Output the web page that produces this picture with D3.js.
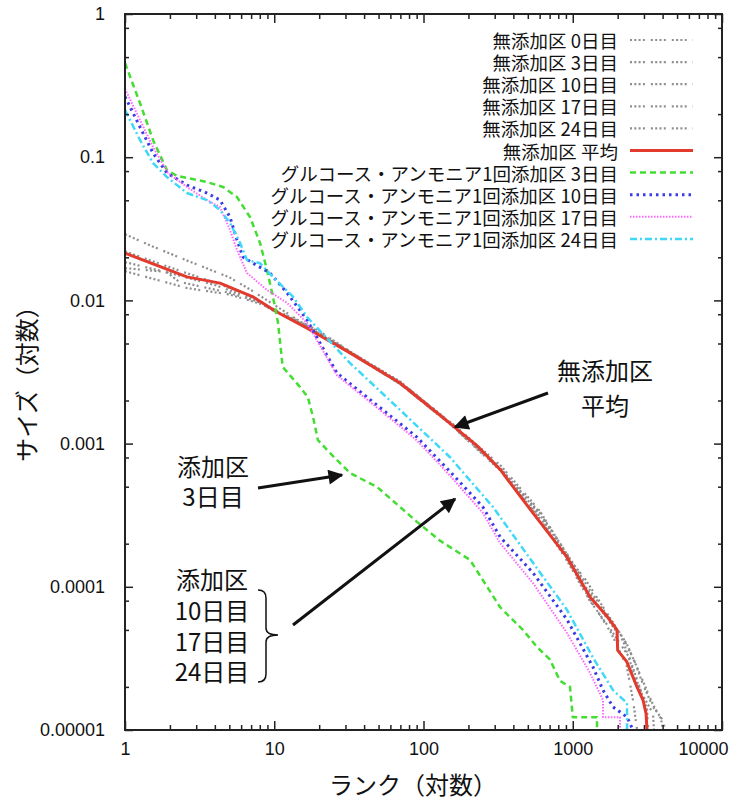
<!DOCTYPE html>
<html>
<head>
<meta charset="utf-8">
<script src="https://cdn.jsdelivr.net/npm/d3@7"></script>
<style>
  body { margin: 0; background: #fff; }
  text { font-family: "Noto Sans CJK JP", sans-serif; fill: #111; }
  .tick text { font-family: "Liberation Sans", Arial, sans-serif; font-size: 18px; fill: #111; }
</style>
</head>
<body>
<svg id="chart" width="734" height="803"></svg>
<script>
// ---- data: [rank, size] ----
const rankTicks = [1, 10, 100, 1000, 10000];
const sizeTicks = [1, 0.1, 0.01, 0.001, 0.0001, 0.00001];
const sizeTickLabels = ["1", "0.1", "0.01", "0.001", "0.0001", "0.00001"];

const plain0 = [[1,0.029],[1.5,0.024],[2.6,0.019],[5,0.0145],[7,0.0118],[10,0.0093],[15,0.0071],[20,0.0061],[40,0.0038],[80,0.0024],[160,0.00135],[330,0.00070],[600,0.00034],[1000,0.000145],[1200,0.000115],[1600,7.2e-5],[2200,4.3e-5],[2600,3.0e-5],[3000,2.0e-5],[3450,1.45e-5],[4024,1.17e-5],[4150,1e-5]];
const plain3 = [[1,0.022],[2,0.017],[4,0.0133],[7,0.0108],[10,0.0085],[17,0.0065],[32,0.0044],[70,0.0027],[150,0.0014],[326,0.00068],[600,0.00032],[915,0.000165],[1300,9e-5],[1700,6e-5],[2173,4.2e-5],[2533,2.6e-5],[2900,1.8e-5],[3450,1.3e-5],[3500,1e-5]];
const plain10 = [[1,0.0185],[2,0.0155],[4,0.0128],[7,0.0104],[10,0.0084],[17,0.0064],[32,0.0043],[70,0.0026],[150,0.00138],[326,0.00066],[600,0.00031],[915,0.000158],[1300,8.2e-5],[1800,4.8e-5],[2300,2.8e-5],[2533,1.62e-5],[2700,1e-5]];
const plain17 = [[1,0.0168],[1.9,0.0158],[2.3,0.0135],[5,0.0113],[8,0.0097],[12,0.0079],[17,0.0066],[32,0.0044],[70,0.0027],[150,0.0014],[326,0.00067],[600,0.00033],[915,0.00017],[1300,9.5e-5],[1800,5.8e-5],[2300,4e-5],[2800,2.5e-5],[3450,1.5e-5],[3900,1.2e-5],[4024,1e-5]];
const plain24 = [[1,0.016],[2.6,0.0122],[5,0.011],[8,0.0095],[12,0.0078],[17,0.0065],[32,0.0043],[70,0.0026],[150,0.00137],[326,0.00065],[600,0.0003],[915,0.000152],[1300,8e-5],[1800,5e-5],[2400,3.2e-5],[2800,2e-5],[3143,1.4e-5],[3200,1e-5]];
const plainMean = [[1,0.0214],[2.6,0.0146],[4.33,0.0132],[7.2,0.0106],[10.4,0.0083],[16.6,0.0064],[32.2,0.0043],[69.6,0.00265],[102,0.00192],[150,0.00139],[230,0.00096],[326,0.00066],[464,0.000404],[915,0.000161],[1305,8.5e-5],[1700,6.2e-5],[1979,5.0e-5],[2000,3.6e-5],[2300,3.0e-5],[2693,2.0e-5],[2957,1.62e-5],[3100,1.3e-5],[3143,1e-5]];
const glu3 = [[1,0.455],[1.26,0.239],[1.54,0.132],[1.91,0.0814],[2.23,0.074],[3.54,0.0671],[4.54,0.0619],[5.63,0.0527],[6.88,0.0382],[8.03,0.0252],[8.94,0.0163],[9.81,0.01057],[10.6,0.00695],[11.4,0.00343],[14.9,0.00248],[16.8,0.00211],[18.2,0.00153],[19.6,0.00106],[23.6,0.00086],[32.2,0.000623],[48.8,0.000498],[69.6,0.000361],[90.4,0.000284],[129,0.00021],[205,0.000154],[326,7.2e-5],[464,5.0e-5],[576,3.8e-5],[704,3.1e-5],[822,2.2e-5],[959,2.0e-5],[1000,1.23e-5],[1454,1.23e-5],[1454,1e-5]];
const glu10 = [[1,0.265],[1.26,0.1625],[1.54,0.107],[1.91,0.0776],[2.6,0.0639],[3.54,0.0562],[4.33,0.0502],[5.05,0.0382],[5.63,0.0264],[6.17,0.0201],[7.2,0.0182],[9.37,0.01553],[12.2,0.01126],[16.6,0.0073],[26.3,0.00311],[53.5,0.00172],[90.4,0.00111],[150,0.00064],[250,0.000361],[326,0.000223],[542,0.000125],[915,5.9e-5],[1367,2.75e-5],[1595,1.9e-5],[1861,1.45e-5],[2310,1.23e-5],[2533,1e-5]];
const glu17 = [[1,0.30],[1.26,0.182],[1.54,0.118],[1.94,0.0776],[2.6,0.0619],[3.54,0.0502],[4.33,0.0449],[5.05,0.031],[5.63,0.0225],[6.57,0.01553],[8.94,0.01182],[12.2,0.0096],[16.6,0.00695],[26.3,0.00300],[53.5,0.00165],[90.4,0.00105],[150,0.0006],[250,0.000328],[326,0.000202],[542,0.000106],[915,4.76e-5],[1305,2.5e-5],[1595,1.62e-5],[1595,1.23e-5],[2073,1.23e-5],[2073,1e-5]];
const glu24 = [[1,0.214],[1.26,0.132],[1.54,0.0911],[1.91,0.0727],[2.6,0.0562],[3.54,0.0502],[4.33,0.0428],[5.05,0.0347],[5.9,0.0252],[6.57,0.0191],[8.03,0.0182],[9.81,0.01456],[13.4,0.01057],[16.6,0.00766],[32.2,0.00365],[69.6,0.00172],[150,0.000806],[292,0.000361],[542,0.000147],[915,6.9e-5],[1367,3.2e-5],[1861,1.9e-5],[2310,1.54e-5],[2310,1e-5]];

const seriesNames = [
  "無添加区 0日目", "無添加区 3日目", "無添加区 10日目", "無添加区 17日目", "無添加区 24日目",
  "無添加区 平均",
  "グルコース・アンモニア1回添加区 3日目", "グルコース・アンモニア1回添加区 10日目",
  "グルコース・アンモニア1回添加区 17日目", "グルコース・アンモニア1回添加区 24日目"
];
const seriesData = [plain0, plain3, plain10, plain17, plain24, plainMean, glu3, glu10, glu17, glu24];

// ---- styles ----
const GREY = { stroke: "#8e8e8e", width: 2.2, dash: "2,2.3,2,2.3,2,2.3,2,6" };
const seriesStyles = [
  GREY, GREY, GREY, GREY, GREY,
  { stroke: "#e33a2e", width: 3, dash: null },
  { stroke: "#44dd33", width: 2.5, dash: "6,4" },
  { stroke: "#3a3ae6", width: 3, dash: "2.5,4" },
  { stroke: "#ff66ff", width: 2, dash: "1.5,1.5" },
  { stroke: "#3fd8f8", width: 2.5, dash: "7,3,2,3" }
];

const svg = d3.select("#chart");
svg.append("rect").attr("width", 734).attr("height", 803).attr("fill", "#fff");

const x = d3.scaleLog().domain([1, 10000]).range([125, 722]);
const y = d3.scaleLog().domain([1e-5, 1]).range([730, 14]);

// minor ticks: 2..9 on rank axis, 2/5/8 on size axis (as in the picture)
const minorRanks = [];
[1, 10, 100, 1000].forEach(b => { for (let k = 2; k <= 9; k++) minorRanks.push(b * k); });
const minorSizes = [];
[1e-5, 1e-4, 1e-3, 1e-2, 1e-1].forEach(b => { [2, 5, 8].forEach(k => minorSizes.push(b * k)); });

// clip
svg.append("clipPath").attr("id", "plotclip")
  .append("rect").attr("x", 125).attr("y", 14).attr("width", 597).attr("height", 716);

// curves
const line = d3.line().x(d => x(d[0])).y(d => y(d[1]));
const curves = svg.append("g").attr("clip-path", "url(#plotclip)");
seriesData.forEach((data, i) => {
  const st = seriesStyles[i];
  curves.append("path")
    .datum(data)
    .attr("fill", "none")
    .attr("stroke", st.stroke)
    .attr("stroke-width", st.width)
    .attr("stroke-dasharray", st.dash)
    .attr("stroke-linejoin", "round")
    .attr("d", line);
});

// axes (ticks inward on all four sides)
function styleAxis(g) {
  g.select(".domain").remove();
  g.selectAll(".tick line").attr("stroke", "#222").attr("stroke-width", 1.5);
}
const fmtX = d => d3.format("d")(d);

const xb = svg.append("g").attr("transform", "translate(0,730)")
  .call(d3.axisBottom(x).tickValues(rankTicks).tickFormat(fmtX).tickSizeInner(-9).tickSizeOuter(0).tickPadding(12))
  .call(styleAxis);
xb.selectAll(".tick text").filter(d => d === 10000).attr("text-anchor", "end").attr("dx", 6);
svg.append("g").attr("transform", "translate(0,730)")
  .call(d3.axisBottom(x).tickValues(minorRanks).tickFormat("").tickSizeInner(-5).tickSizeOuter(0))
  .call(styleAxis);
svg.append("g").attr("transform", "translate(0,14)")
  .call(d3.axisTop(x).tickValues(rankTicks).tickFormat("").tickSizeInner(-9).tickSizeOuter(0))
  .call(styleAxis);
svg.append("g").attr("transform", "translate(0,14)")
  .call(d3.axisTop(x).tickValues(minorRanks).tickFormat("").tickSizeInner(-5).tickSizeOuter(0))
  .call(styleAxis);

svg.append("g").attr("transform", "translate(125,0)")
  .call(d3.axisLeft(y).tickValues(sizeTicks).tickFormat((d, i) => sizeTickLabels[i]).tickSizeInner(-8).tickSizeOuter(0).tickPadding(20))
  .call(styleAxis);
svg.append("g").attr("transform", "translate(125,0)")
  .call(d3.axisLeft(y).tickValues(minorSizes).tickFormat("").tickSizeInner(-4).tickSizeOuter(0))
  .call(styleAxis);
svg.append("g").attr("transform", "translate(722,0)")
  .call(d3.axisRight(y).tickValues(sizeTicks).tickFormat("").tickSizeInner(-8).tickSizeOuter(0))
  .call(styleAxis);
svg.append("g").attr("transform", "translate(722,0)")
  .call(d3.axisRight(y).tickValues(minorSizes).tickFormat("").tickSizeInner(-4).tickSizeOuter(0))
  .call(styleAxis);

// frame
svg.append("rect")
  .attr("x", 125).attr("y", 14).attr("width", 597).attr("height", 716)
  .attr("fill", "none").attr("stroke", "#222").attr("stroke-width", 2);

// axis titles
svg.append("text")
  .attr("x", 413).attr("y", 794)
  .attr("text-anchor", "middle")
  .style("font-size", "24px")
  .text("ランク（対数）");
svg.append("text")
  .attr("transform", "translate(36,378) rotate(-90)")
  .attr("text-anchor", "middle")
  .style("font-size", "24px")
  .text("サイズ（対数）");

// legend
const legend = svg.append("g");
seriesNames.forEach((name, i) => {
  const ly = 40 + i * 22.1;
  const st = seriesStyles[i];
  legend.append("text")
    .attr("x", 618).attr("y", ly)
    .attr("text-anchor", "end")
    .attr("dominant-baseline", "central")
    .style("font-size", "18.5px")
    .text(name);
  legend.append("line")
    .attr("x1", 630).attr("x2", 693).attr("y1", ly).attr("y2", ly)
    .attr("stroke", st.stroke)
    .attr("stroke-width", st.width)
    .attr("stroke-dasharray", st.dash);
});

// annotations
svg.append("defs").append("marker")
  .attr("id", "arrow")
  .attr("viewBox", "0 0 10 10")
  .attr("refX", 9).attr("refY", 5)
  .attr("markerWidth", 6).attr("markerHeight", 5)
  .attr("markerUnits", "strokeWidth")
  .attr("orient", "auto")
  .append("path").attr("d", "M0,0 L10,5 L0,10 z").attr("fill", "#111");

const note = svg.append("g").style("font-size", "24px");
function label(lines, cx, baselines) {
  lines.forEach((t, i) => {
    note.append("text").attr("x", cx).attr("y", baselines[i])
      .attr("text-anchor", "middle").text(t);
  });
}
function arrow(x1, y1, x2, y2) {
  note.append("line")
    .attr("x1", x1).attr("y1", y1).attr("x2", x2).attr("y2", y2)
    .attr("stroke", "#111").attr("stroke-width", 3)
    .attr("marker-end", "url(#arrow)");
}

label(["無添加区", "平均"], 605, [380, 415]);
arrow(548, 393, 455, 427);

label(["添加区", "3日目"], 213, [476, 506]);
arrow(258, 488, 342, 475);

label(["添加区", "10日目", "17日目", "24日目"], 212, [589, 620, 651, 681]);
note.append("path")
  .attr("d", "M258,590 Q266,590 266,598 L266,628 Q266,635 278,635 Q266,635 266,642 L266,674 Q266,682 258,682")
  .attr("fill", "none").attr("stroke", "#111").attr("stroke-width", 1.5);
arrow(293, 625, 455, 499);
</script>
</body>
</html>
